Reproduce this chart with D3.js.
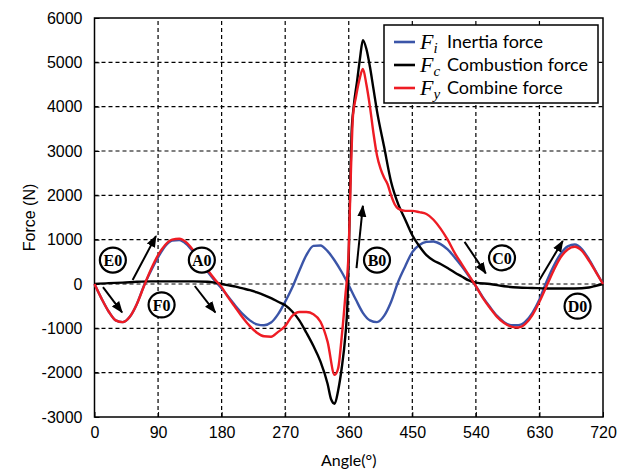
<!DOCTYPE html>
<html>
<head>
<meta charset="utf-8">
<script src="https://cdn.jsdelivr.net/npm/d3@7"></script>
<style>
  body { margin: 0; background: #fff; }
</style>
</head>
<body>
<div id="chart"></div>
<script>
// tick values
const xTicks = [0, 90, 180, 270, 360, 450, 540, 630, 720];
const yTicks = [-3000, -2000, -1000, 0, 1000, 2000, 3000, 4000, 5000, 6000];

// series: [angle (deg), force (N)]
const inertia = [
    [0, 0], [10, -330], [20, -620], [30, -820], [40, -860], [50, -740], [60, -450], [70, -40],
    [80, 300], [90, 600], [100, 850], [110, 980], [120, 990], [130, 900], [140, 720], [150, 500],
    [160, 280], [170, 80], [180, -100], [190, -300], [200, -500], [210, -680], [220, -820], [230, -910],
    [240, -930], [250, -870], [260, -680], [270, -400], [280, -80], [290, 300], [300, 650], [310, 860],
    [320, 870], [330, 740], [340, 530], [350, 270], [360, -30], [370, -350], [380, -650], [390, -820],
    [400, -860], [410, -720], [420, -400], [430, 50], [440, 400], [450, 720], [460, 880], [470, 950],
    [480, 960], [490, 900], [500, 780], [510, 600], [520, 400], [530, 180], [540, -50], [550, -300],
    [560, -520], [570, -720], [580, -860], [590, -930], [600, -930], [610, -850], [620, -650], [630, -350],
    [640, 50], [650, 400], [660, 680], [670, 850], [680, 890], [690, 790], [700, 560], [710, 280], [720, 0]
];

const combustion = [
    [0, 0], [20, 20], [40, 30], [60, 50], [80, 60], [100, 60], [120, 60], [140, 60], [160, 50],
    [170, 30], [180, 0], [190, -30], [200, -60], [210, -100], [220, -140], [230, -190], [240, -250],
    [250, -320], [260, -400], [270, -480], [280, -620], [290, -820], [300, -1100], [310, -1400],
    [320, -1750], [330, -2250], [335, -2600], [340, -2700], [345, -2400], [350, -1900], [355, -1200],
    [358, -500], [360, 600], [362, 2200], [364, 3400], [367, 4000], [372, 4600], [376, 5100], [380, 5500],
    [385, 5300], [390, 4900], [395, 4400], [400, 3900], [410, 3100], [420, 2300], [430, 1800],
    [440, 1450], [450, 1100], [460, 850], [470, 650], [480, 530], [490, 450], [500, 360], [510, 260],
    [520, 170], [530, 80], [540, 30], [560, 0], [580, -50], [600, -80], [620, -90], [640, -100],
    [660, -100], [680, -100], [700, -80], [710, -40], [720, 0]
];

const combine = [
    [0, 0], [10, -330], [20, -620], [30, -820], [40, -860], [50, -740], [60, -450], [70, -50],
    [80, 330], [90, 650], [100, 880], [110, 1000], [120, 1020], [130, 940], [140, 760], [150, 550],
    [160, 320], [170, 110], [180, -70], [190, -320], [200, -540], [210, -760], [220, -950], [230, -1100],
    [240, -1180], [250, -1190], [260, -1080], [270, -950], [280, -720], [290, -630], [300, -630],
    [310, -680], [320, -850], [330, -1300], [340, -2050], [345, -1900], [350, -1200], [355, -300],
    [360, 800], [363, 2500], [366, 3800], [370, 4200], [375, 4600], [380, 4850], [385, 4500],
    [390, 4000], [395, 3400], [400, 2900], [405, 2600], [410, 2400], [415, 2250], [420, 2000],
    [425, 1800], [430, 1700], [440, 1650], [450, 1650], [460, 1620], [470, 1580], [480, 1450],
    [490, 1250], [500, 1000], [510, 700], [520, 450], [530, 200], [540, -50], [550, -320],
    [560, -540], [570, -740], [580, -880], [590, -960], [600, -980], [610, -900], [620, -700],
    [630, -400], [640, -50], [650, 300], [660, 600], [670, 780], [680, 840], [690, 750], [700, 530],
    [710, 270], [720, 0]
];

const seriesColors = ["#3b55a8", "#000000", "#ee1c24"];
const legendSymbols = ["i", "c", "y"];
const legendLabels = ["Inertia force", "Combustion force", "Combine force"];

// circled point labels and arrows, in data units
const markLabels = ["E0", "A0", "F0", "B0", "C0", "D0"];
const markPos = [[26, 540], [152, 540], [95, -470], [400, 540], [577, 590], [684, -500]];
const arrows = [
    [[12, -70], [39, -640]],
    [[54, 90], [87, 1080]],
    [[142, -45], [171, -640]],
    [[371, 360], [380, 1760]],
    [[524, 950], [554, 240]],
    [[630, 90], [663, 970]]
];

const width = 629, height = 475;
const margin = { top: 18, right: 26, bottom: 58, left: 94.5 };

const svg = d3.select("#chart").append("svg")
    .attr("width", width)
    .attr("height", height);

const x = d3.scaleLinear().domain([0, 720]).range([margin.left, width - margin.right]);
const y = d3.scaleLinear().domain([-3000, 6000]).range([height - margin.bottom, margin.top]);

// grid
svg.append("g")
    .selectAll("line")
    .data(xTicks.slice(1, -1))
    .join("line")
    .attr("x1", d => x(d)).attr("x2", d => x(d))
    .attr("y1", y(-3000)).attr("y2", y(6000))
    .attr("stroke", "#000").attr("stroke-width", 1.2)
    .attr("stroke-dasharray", "4,3");

svg.append("g")
    .selectAll("line")
    .data(yTicks.slice(1, -1))
    .join("line")
    .attr("x1", x(0)).attr("x2", x(720))
    .attr("y1", d => y(d)).attr("y2", d => y(d))
    .attr("stroke", "#000").attr("stroke-width", 1.2)
    .attr("stroke-dasharray", "4,3");

// axes
svg.append("g")
    .attr("transform", `translate(0,${y(-3000)})`)
    .call(d3.axisBottom(x).tickValues(xTicks).tickSize(-5).tickPadding(10).tickFormat(d => String(d)))
    .call(g => g.select(".domain").remove())
    .attr("font-size", 16)
    .attr("font-family", "'Liberation Sans', Arial, sans-serif");

svg.append("g")
    .attr("transform", `translate(${x(0)},0)`)
    .call(d3.axisLeft(y).tickValues(yTicks).tickSize(-5).tickPadding(12).tickFormat(d => String(d)))
    .call(g => g.select(".domain").remove())
    .attr("font-size", 16)
    .attr("font-family", "'Liberation Sans', Arial, sans-serif");

svg.selectAll(".tick text").attr("fill", "#000");

// frame
svg.append("rect")
    .attr("x", x(0)).attr("y", y(6000))
    .attr("width", x(720) - x(0)).attr("height", y(-3000) - y(6000))
    .attr("fill", "none").attr("stroke", "#000").attr("stroke-width", 1.5);

// curves
const line = d3.line()
    .x(d => x(d[0]))
    .y(d => y(d[1]))
    .curve(d3.curveMonotoneX);

[inertia, combustion, combine].forEach((s, i) => {
    svg.append("path")
        .datum(s)
        .attr("d", line)
        .attr("fill", "none")
        .attr("stroke", seriesColors[i])
        .attr("stroke-width", 2.4)
        .attr("stroke-linejoin", "round");
});

// arrows
svg.append("defs").append("marker")
    .attr("id", "head")
    .attr("viewBox", "0 0 10 10")
    .attr("refX", 9).attr("refY", 5)
    .attr("markerWidth", 6).attr("markerHeight", 6)
    .attr("markerUnits", "strokeWidth")
    .attr("orient", "auto")
    .append("path")
    .attr("d", "M0,1.2 L10,5 L0,8.8 Z")
    .attr("fill", "#000");

svg.append("g")
    .selectAll("line")
    .data(arrows)
    .join("line")
    .attr("x1", d => x(d[0][0])).attr("y1", d => y(d[0][1]))
    .attr("x2", d => x(d[1][0])).attr("y2", d => y(d[1][1]))
    .attr("stroke", "#000").attr("stroke-width", 2)
    .attr("marker-end", "url(#head)");

// circled labels
const mark = svg.append("g")
    .selectAll("g")
    .data(markLabels)
    .join("g")
    .attr("transform", (d, i) => `translate(${x(markPos[i][0])},${y(markPos[i][1])})`);

mark.append("ellipse")
    .attr("rx", 13).attr("ry", 12.5)
    .attr("fill", "#fff").attr("stroke", "#000").attr("stroke-width", 2.2);

mark.append("text")
    .attr("text-anchor", "middle")
    .attr("dy", "0.36em")
    .attr("font-family", "'Liberation Serif', 'Times New Roman', serif")
    .attr("font-weight", "bold")
    .attr("font-size", 16)
    .text(d => d);

// legend
const legend = svg.append("g");
legend.append("rect")
    .attr("x", 384).attr("y", 25)
    .attr("width", 214).attr("height", 78)
    .attr("fill", "#fff").attr("stroke", "#000").attr("stroke-width", 1.5);

legendLabels.forEach((label, i) => {
    const ly = 42 + i * 23;
    legend.append("line")
        .attr("x1", 394).attr("x2", 415)
        .attr("y1", ly).attr("y2", ly)
        .attr("stroke", seriesColors[i]).attr("stroke-width", 2.6);
    const t = legend.append("text")
        .attr("x", 420).attr("y", ly + 7)
        .attr("font-family", "'Liberation Serif', 'Times New Roman', serif")
        .attr("font-style", "italic")
        .attr("font-size", 22);
    t.append("tspan").text("F");
    t.append("tspan").attr("font-size", 15).attr("dy", 4).text(legendSymbols[i]);
    legend.append("text")
        .attr("x", 447).attr("y", ly + 6)
        .attr("font-family", "Lato, 'Liberation Sans', sans-serif")
        .attr("font-size", 18)
        .text(label);
});

// axis titles
svg.append("text")
    .attr("x", (x(0) + x(720)) / 2)
    .attr("y", 466)
    .attr("text-anchor", "middle")
    .attr("font-family", "Lato, 'Liberation Sans', sans-serif")
    .attr("font-size", 16)
    .text("Angle(°)");

svg.append("text")
    .attr("transform", `translate(35,${(y(6000) + y(-3000)) / 2}) rotate(-90)`)
    .attr("text-anchor", "middle")
    .attr("font-family", "'Liberation Sans', Arial, sans-serif")
    .attr("font-size", 16)
    .text("Force (N)");
</script>
</body>
</html>
